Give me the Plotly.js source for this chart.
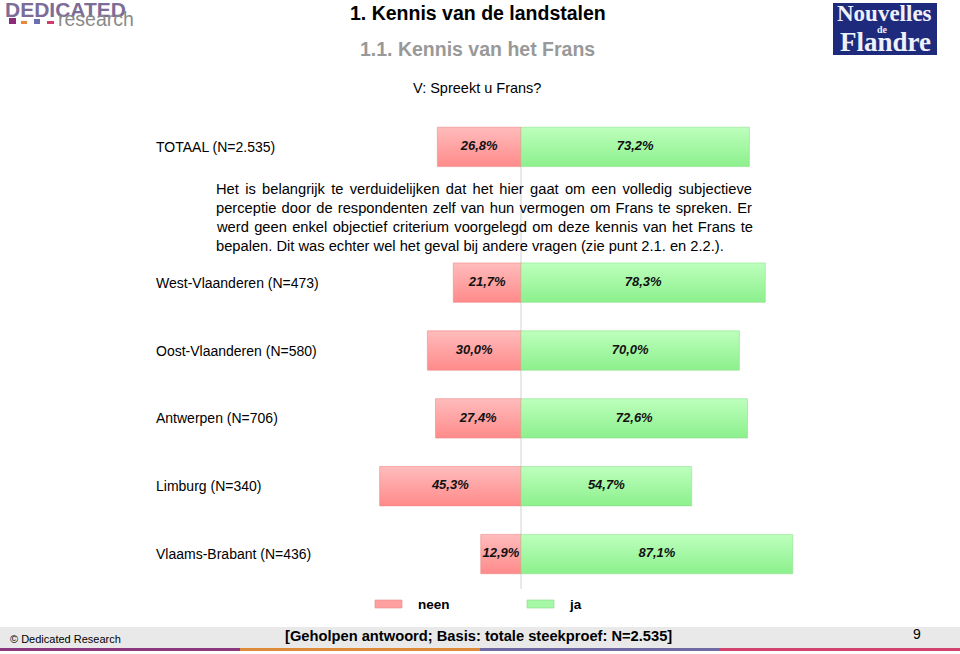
<!DOCTYPE html>
<html><head><meta charset="utf-8">
<script src="https://cdn.plot.ly/plotly-3.0.1.min.js"></script>
<style>html,body{margin:0;padding:0;background:#fff;overflow:hidden}#chart{width:960px;height:654px}</style>
</head><body><div id="chart"></div>
<script>
// ---- data ----
const categories = ['TOTAAL (N=2.535)', 'West-Vlaanderen (N=473)', 'Oost-Vlaanderen (N=580)', 'Antwerpen (N=706)', 'Limburg (N=340)', 'Vlaams-Brabant (N=436)'];
const neen = [26.8, 21.7, 30.0, 27.4, 45.3, 12.9];
const ja = [73.2, 78.3, 70.0, 72.6, 54.7, 87.1];
const seriesNames = ['neen', 'ja'];
const titleMain = '1. Kennis van de landstalen';
const titleSub = '1.1. Kennis van het Frans';
const question = 'V: Spreekt u Frans?';
const noteLines = [
  'Het is belangrijk te verduidelijken dat het hier gaat om een volledig subjectieve',
  'perceptie door de respondenten zelf van hun vermogen om Frans te spreken. Er',
  'werd geen enkel objectief criterium voorgelegd om deze kennis van het Frans te',
  'bepalen. Dit was echter wel het geval bij andere vragen (zie punt 2.1. en 2.2.).'
];
const footerText = '[Geholpen antwoord; Basis: totale steekproef: N=2.535]';
const copyrightText = '© Dedicated Research';
const pageNumber = '9';

// ---- layout helpers ----
const W = 960, H = 654, M = {l: 209, r: 127, t: 113, b: 66};
const PW = W - M.l - M.r, PH = H - M.t - M.b;
const px = x => (x - M.l) / PW;
const py = y => 1 - (y - M.t) / PH;
const fmt = v => v.toFixed(1).replace('.', ',') + '%';
const spacer = '_note';
const order = [categories[0], spacer].concat(categories.slice(1));
const SANS = 'Liberation Sans, Arial, sans-serif';
const SERIF = 'Liberation Serif, Times New Roman, serif';
const RED = '#ffa0a0', GREEN = '#a6f8a6';

const labelFont = {family: SANS, size: 13, weight: 'bold', style: 'italic', color: '#111'};
const traces = [
  {type: 'bar', orientation: 'h', name: seriesNames[0], y: categories, x: neen.map(v => -v), width: 0.58,
   marker: {color: RED, line: {color: '#ee8a8a', width: 0.6}}, hoverinfo: 'skip', showlegend: false},
  {type: 'bar', orientation: 'h', name: seriesNames[1], y: categories, x: ja, width: 0.58,
   marker: {color: GREEN, line: {color: '#8ee08e', width: 0.6}}, hoverinfo: 'skip', showlegend: false},
  {type: 'scatter', mode: 'text', y: categories, x: neen.map(v => -v / 2), text: neen.map(fmt),
   textfont: labelFont, textposition: 'middle center', hoverinfo: 'skip', showlegend: false, cliponaxis: false},
  {type: 'scatter', mode: 'text', y: categories, x: ja.map(v => v / 2), text: ja.map(fmt),
   textfont: labelFont, textposition: 'middle center', hoverinfo: 'skip', showlegend: false, cliponaxis: false}
];

const ann = [];
const A = (text, x, y, font, extra) => ann.push(Object.assign({text, x: px(x), y: py(y), xref: 'paper', yref: 'paper',
  showarrow: false, xanchor: 'left', yanchor: 'middle', align: 'left', borderpad: 0, font}, extra || {}));

// titles
A(titleMain, 478, 13, {family: SANS, size: 19.5, weight: 'bold', color: '#000'}, {xanchor: 'center', align: 'center'});
A(titleSub, 477, 49, {family: SANS, size: 19.5, weight: 'bold', color: '#999'}, {xanchor: 'center', align: 'center'});
A(question, 477, 88, {family: SANS, size: 14.5, color: '#000'}, {xanchor: 'center', align: 'center'});
// category labels
categories.forEach(c => ann.push({text: c, x: px(155), xref: 'paper', y: c, yref: 'y', showarrow: false, borderpad: 0,
  xanchor: 'left', yanchor: 'middle', align: 'left', font: {family: SANS, size: 14, color: '#000'}}));
// note
noteLines.forEach((t, i) => A(t, 215, 189 + 19 * i, {family: SANS, size: 14.7, color: '#000'}));
// legend texts
A(seriesNames[0], 417, 604, {family: SANS, size: 13.5, weight: 'bold', color: '#000'});
A(seriesNames[1], 568, 604, {family: SANS, size: 13.5, weight: 'bold', color: '#000'});
// footer
A(copyrightText, 9, 639, {family: SANS, size: 11, color: '#000'});
A(footerText, 478, 636, {family: SANS, size: 14.7, weight: 'bold', color: '#000'}, {xanchor: 'center', align: 'center'});
A(pageNumber, 917, 634, {family: SANS, size: 14, color: '#000'}, {xanchor: 'center', align: 'center'});
// logos
A('DEDICATED', 4, 9, {family: SANS, size: 21, weight: 'bold', color: '#7b6c98'});
A('research', 57, 19.5, {family: SANS, size: 19.5, color: '#8a8a8a'});
A('Nouvelles', 884.5, 13, {family: SERIF, size: 23, weight: 'bold', color: '#eef0fa'}, {xanchor: 'center', align: 'center'});
A('de', 882, 29.5, {family: SERIF, size: 10, weight: 'bold', color: '#eef0fa'}, {xanchor: 'center', align: 'center'});
A('Flandre', 885.5, 42.5, {family: SERIF, size: 27, weight: 'bold', color: '#eef0fa'}, {xanchor: 'center', align: 'center'});

const shapes = [];
const R = (x0, y0, x1, y1, fill, line, layer) => shapes.push({type: 'rect', xref: 'paper', yref: 'paper',
  x0: px(x0), x1: px(x1), y0: py(y0), y1: py(y1), fillcolor: fill, line: line || {width: 0}, layer: layer || 'above'});
// center line
shapes.push({type: 'line', xref: 'x', yref: 'paper', x0: 0, x1: 0, y0: py(128), y1: py(589),
  line: {color: '#d2d2d2', width: 1}, layer: 'below'});
// legend swatches
R(375, 600, 402, 608, RED, {color: '#e88a8a', width: 0.6});
R(527, 600, 554, 608, GREEN, {color: '#8ad88a', width: 0.6});
// footer band & stripes
R(0, 627, 960, 648, '#e9e9e9', null, 'below');
R(0, 648, 240, 651, '#8a3a7c', null, 'below');
R(240, 648, 480, 651, '#e08a3c', null, 'below');
R(480, 648, 720, 651, '#6e6aa2', null, 'below');
R(720, 648, 960, 651, '#d24470', null, 'below');
// dedicated squares
R(9, 18, 16, 24, '#8e2a7a');
R(21, 21, 27, 24, '#e8873a');
R(34, 19, 40, 24, '#6a6fb0');
R(47, 21, 54, 24, '#d03c6a');
// nouvelles box
R(833, 3, 937, 55, '#1e2a7c', null, 'below');

const layout = {
  width: W, height: H, margin: M, paper_bgcolor: '#fff', plot_bgcolor: 'rgba(0,0,0,0)',
  barmode: 'relative', bargap: 0.4, showlegend: false,
  xaxis: {range: [-100, 100], showgrid: false, zeroline: false, showticklabels: false, showline: false, ticks: '', fixedrange: true},
  yaxis: {type: 'category', categoryorder: 'array', categoryarray: order, range: [6.5, -0.5], autorange: false,
          showgrid: false, zeroline: false, showticklabels: false, showline: false, ticks: '', fixedrange: true},
  annotations: ann, shapes: shapes, font: {family: SANS}
};

Plotly.newPlot('chart', traces, layout, {staticPlot: true, displayModeBar: false}).then(gd => {
  // justify the first three note lines
  const firstNote = 3 + categories.length;
  const target = 751 - 215;
  for (let i = 0; i < 3; i++) {
    const el = gd.querySelector('.annotation[data-index="' + (firstNote + i) + '"] text.annotation-text');
    if (!el) continue;
    const w = el.getComputedTextLength();
    const spaces = (noteLines[i].match(/ /g) || []).length;
    if (spaces && w < target) el.style.wordSpacing = ((target - w) / spaces) + 'px';
  }
  // vertical gradients on the bars
  const svg = gd.querySelector('.main-svg');
  let defs = svg.querySelector('defs');
  const NS = 'http://www.w3.org/2000/svg';
  const mk = (id, top, bottom) => {
    const g = document.createElementNS(NS, 'linearGradient');
    g.setAttribute('id', id); g.setAttribute('x1', '0'); g.setAttribute('y1', '0'); g.setAttribute('x2', '0'); g.setAttribute('y2', '1');
    [[0, top], [1, bottom]].forEach(([o, c]) => { const s = document.createElementNS(NS, 'stop'); s.setAttribute('offset', o); s.setAttribute('stop-color', c); g.appendChild(s); });
    defs.appendChild(g);
  };
  mk('gradNeen', '#ffbcbc', '#ff8a8a');
  mk('gradJa', '#bdffbd', '#8cf08c');
  const barTraces = gd.querySelectorAll('.barlayer .trace');
  ['gradNeen', 'gradJa'].forEach((id, k) => {
    if (!barTraces[k]) return;
    barTraces[k].querySelectorAll('path').forEach(p => { p.style.fill = 'url(#' + id + ')'; });
  });
});
</script>
</body></html>
